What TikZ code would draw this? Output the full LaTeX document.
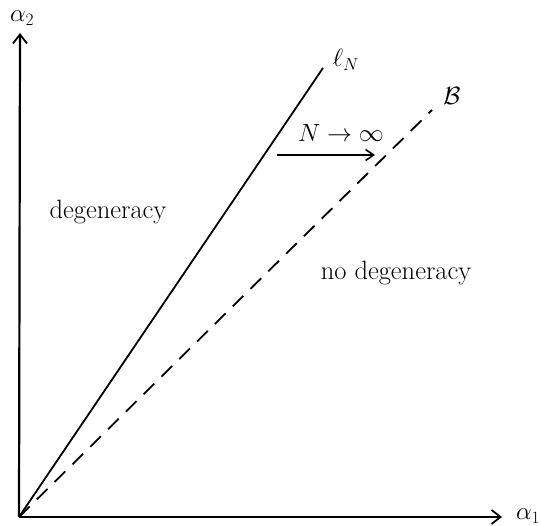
\documentclass[tikz,border=0pt]{standalone}
\usetikzlibrary{arrows.meta}
\begin{document}
\begin{tikzpicture}[x=1pt,y=1pt,
  axis/.style={line width=2.2pt,-{Straight Barb[length=9pt,width=14pt,line width=1.8pt]}},
  lbl/.style={inner sep=0pt,font=\fontsize{26.5}{30}\selectfont},
  albl/.style={inner sep=0pt,font=\fontsize{24}{28}\selectfont},
  ln/.style={line width=1.8pt},
  dln/.style={line width=1.8pt,dash pattern=on 15pt off 10pt}]
\useasboundingbox (0,0) rectangle (541,526);
\coordinate (O) at (19,9);
\coordinate (ytip) at (20,493);
\coordinate (xtip) at (502,9);
\coordinate (lend) at (323,458);
\coordinate (bend) at (432,416);
\coordinate (as) at (277,371);
\coordinate (ae) at (375,371);
\draw[axis] (O) -- (ytip);
\draw[axis] (O) -- (xtip);
\draw[ln] (O) -- (lend);
\draw[dln] (O) -- (bend);
\draw[ln,-{Straight Barb[length=8pt,width=11pt,line width=1.6pt]}] (as) -- (ae);
\node[albl] (a2) at (22,508) {$\alpha_2$};
\node[albl] (a1) at (528,10) {$\alpha_1$};
\node[lbl] (lN) at (346,466) {$\ell_N$};
\node[lbl] (B) at (452,430) {$\mathcal{B}$};
\node[lbl] (Ninf) at (341,393) {$N\rightarrow\infty$};
\node[lbl] (deg) at (108,314) {degeneracy};
\node[lbl] (nodeg) at (396,253) {no degeneracy};
\end{tikzpicture}
\end{document}
